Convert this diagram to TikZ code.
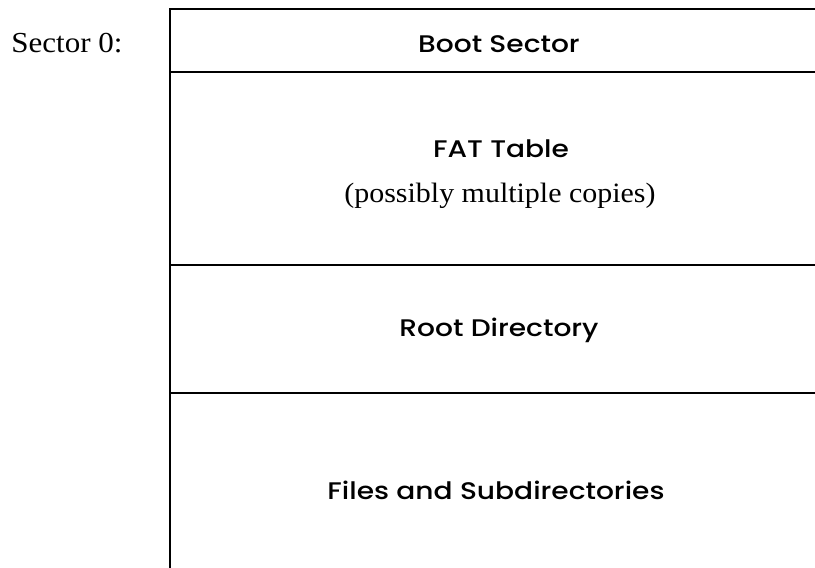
\documentclass[tikz,border=0pt]{standalone}
\usepackage{fontspec}
\setmainfont{Liberation Serif}
\newfontfamily\geofont{Poppins}[UprightFont=* Medium,FakeStretch=1.17]
\newfontfamily\serwide{Liberation Serif}[FakeStretch=1.07]
\begin{document}
\begin{tikzpicture}[x=1pt,y=-1pt,
  rule/.style={line width=2.5pt,line cap=rect},
  serif/.style={font=\serwide\fontsize{29}{32}\selectfont,inner sep=0pt,anchor=base},
  lab/.style={font=\geofont\fontsize{24}{28}\selectfont,inner sep=0pt,anchor=base}]
\useasboundingbox (0,0) rectangle (815,568);
\coordinate (tl) at (170,9);
\coordinate (tr) at (816,9);
\coordinate (bl) at (170,569);
\coordinate (l1) at (170,72);
\coordinate (r1) at (816,72);
\coordinate (l2) at (170,265);
\coordinate (r2) at (816,265);
\coordinate (l3) at (170,393);
\coordinate (r3) at (816,393);
\draw[rule] (bl) -- (tl) -- (tr);
\draw[rule] (l1) -- (r1);
\draw[rule] (l2) -- (r2);
\draw[rule] (l3) -- (r3);
\node[serif] (sec) at (67,52) {Sector 0:};
\node[lab] (boot) at (499,52) {Boot Sector};
\node[lab] (fat) at (501,157) {FAT Table};
\node[serif,font=\serwide\fontsize{28}{30}\selectfont] (copies) at (500,202) {(possibly multiple copies)};
\node[lab] (root) at (499,336) {Root Directory};
\node[lab] (files) at (496,499) {Files and Subdirectories};
\end{tikzpicture}
\end{document}
